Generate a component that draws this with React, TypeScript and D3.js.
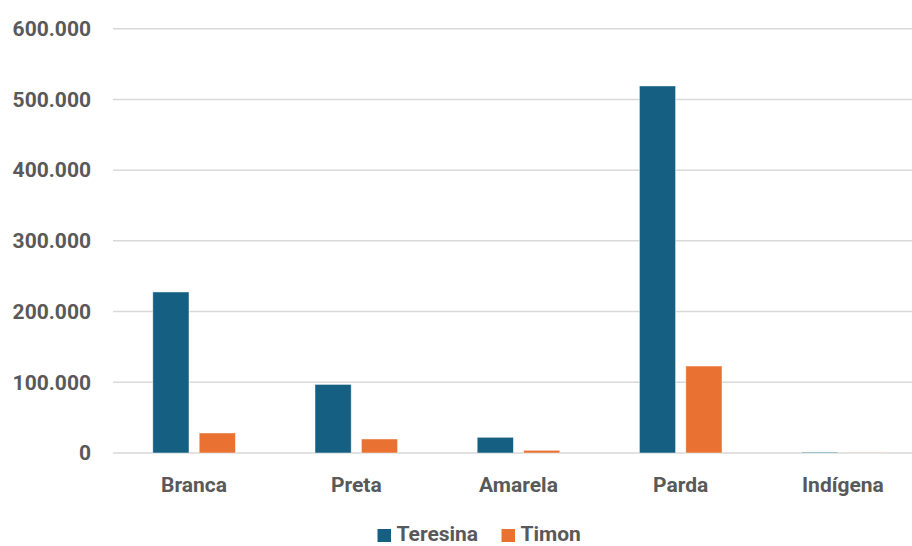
import React from "react";
import * as d3 from "d3";

const categories = ["Branca", "Preta", "Amarela", "Parda", "Indígena"];
const seriesNames = ["Teresina", "Timon"];
const teresina = [227700, 97000, 22200, 519000, 1200];
const timon = [28300, 19800, 3800, 123000, 300];
const yTicks = [0, 100000, 200000, 300000, 400000, 500000, 600000];

const W = 912;
const H = 546;
const colors = ["#156082", "#E97132"];
const textColor = "#595959";
const font = "Roboto, 'Liberation Sans', Arial, sans-serif";

const fmt = (v: number) =>
  v === 0 ? "0" : d3.format(",")(v).replace(/,/g, ".");

export default function App() {
  const y = d3.scaleLinear().domain([0, 600000]).range([453, 28.7]);
  const x = d3
    .scaleBand<string>()
    .domain(categories)
    .range([113, 924])
    .paddingInner(0)
    .paddingOuter(0);
  const inner = d3
    .scaleBand<string>()
    .domain(seriesNames)
    .range([39.8, x.bandwidth() - 39.8])
    .paddingInner(0.22);

  const values = [teresina, timon];

  return (
    <svg
      width={W}
      height={H}
      style={{ position: "absolute", left: 0, top: 0, background: "#fff" }}
      fontFamily={font}
    >
      {yTicks.map((t) => (
        <g key={t}>
          <line
            x1={113}
            x2={W}
            y1={y(t)}
            y2={y(t)}
            stroke="#d9d9d9"
            strokeWidth={1.5}
          />
          <text
            x={91}
            y={y(t)}
            dy="0.35em"
            textAnchor="end"
            fontSize={21}
            fontWeight={700}
            fill={textColor}
          >
            {fmt(t)}
          </text>
        </g>
      ))}
      {categories.map((c, i) => (
        <g key={c} transform={`translate(${x(c)},0)`}>
          {seriesNames.map((s, j) => {
            const v = values[j][i];
            return (
              <rect
                key={s}
                x={inner(s)}
                y={y(v)}
                width={inner.bandwidth()}
                height={y(0) - y(v)}
                fill={colors[j]}
                stroke="#ffffff"
                strokeOpacity={0.6}
                strokeWidth={0.75}
              />
            );
          })}
          <text
            x={x.bandwidth() / 2}
            y={491.5}
            textAnchor="middle"
            fontSize={21}
            fontWeight={700}
            fill={textColor}
          >
            {c}
          </text>
        </g>
      ))}
      <g>
        <rect x={377.5} y={529} width={13.5} height={13} fill={colors[0]} />
        <text x={396.5} y={540.5} fontSize={21} fontWeight={700} fill={textColor}>
          {seriesNames[0]}
        </text>
        <rect x={501.5} y={529} width={13.5} height={13} fill={colors[1]} />
        <text x={520.5} y={540.5} fontSize={21} fontWeight={700} fill={textColor}>
          {seriesNames[1]}
        </text>
      </g>
    </svg>
  );
}
